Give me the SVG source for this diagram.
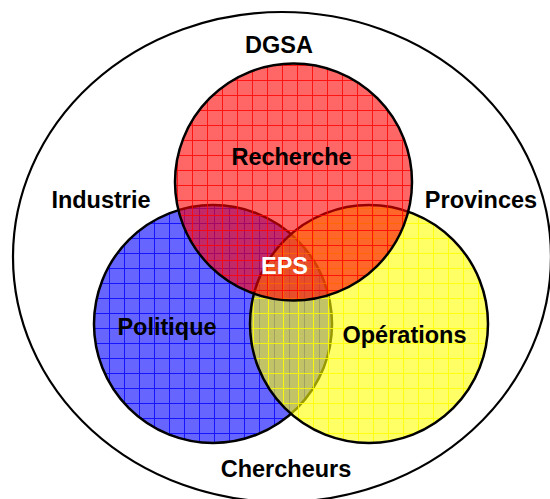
<svg xmlns="http://www.w3.org/2000/svg" width="550" height="499" viewBox="0 0 550 499">
<style>
.lbl{font-family:"Liberation Sans",Arial,sans-serif;font-weight:bold;font-size:23.5px;text-anchor:middle;fill:#000}
.circ{stroke:#000;stroke-width:2.5}
</style>
<defs>
<pattern id="pR" patternUnits="userSpaceOnUse" x="12" y="5" width="15" height="15">
<rect width="15" height="15" fill="#ff0000" fill-opacity="0.6"/>
<rect width="1" height="15" fill="#ff0000" fill-opacity="0.8"/>
<rect x="1" width="14" height="1" fill="#ff0000" fill-opacity="0.8"/>
</pattern>
<pattern id="pB" patternUnits="userSpaceOnUse" x="4" y="13" width="15" height="15">
<rect width="15" height="15" fill="#0000ff" fill-opacity="0.6"/>
<rect width="1" height="15" fill="#0000ff" fill-opacity="0.8"/>
<rect x="1" width="14" height="1" fill="#0000ff" fill-opacity="0.8"/>
</pattern>
<pattern id="pY" patternUnits="userSpaceOnUse" x="13" y="13" width="15" height="15">
<rect width="15" height="15" fill="#ffff00" fill-opacity="0.6"/>
<rect width="1" height="15" fill="#ffff00" fill-opacity="0.85"/>
<rect x="1" width="14" height="1" fill="#ffff00" fill-opacity="0.85"/>
</pattern>
</defs>
<rect width="550" height="499" fill="#fff"/>
<g id="dgsa">
<ellipse cx="282" cy="257" rx="269" ry="245" fill="none" stroke="#000" stroke-width="2.2"/>
<text class="lbl" x="279" y="53">DGSA</text>
<text class="lbl" x="101" y="208">Industrie</text>
<text class="lbl" x="481" y="208">Provinces</text>
<text class="lbl" x="286" y="477">Chercheurs</text>
</g>
<g id="politique">
<circle class="circ" cx="213" cy="324" r="119" fill="url(#pB)"/>
<text class="lbl" x="167" y="335">Politique</text>
</g>
<g id="operations">
<circle class="circ" cx="369" cy="324" r="119" fill="url(#pY)"/>
<text class="lbl" x="404.5" y="343">Opérations</text>
</g>
<g id="recherche">
<circle class="circ" cx="293.5" cy="182" r="118.5" fill="url(#pR)"/>
<text class="lbl" x="291.5" y="165">Recherche</text>
</g>
<g id="eps">
<text class="lbl" x="284.5" y="274" style="fill:#fff">EPS</text>
</g>
<g id="connectors"/>
</svg>
